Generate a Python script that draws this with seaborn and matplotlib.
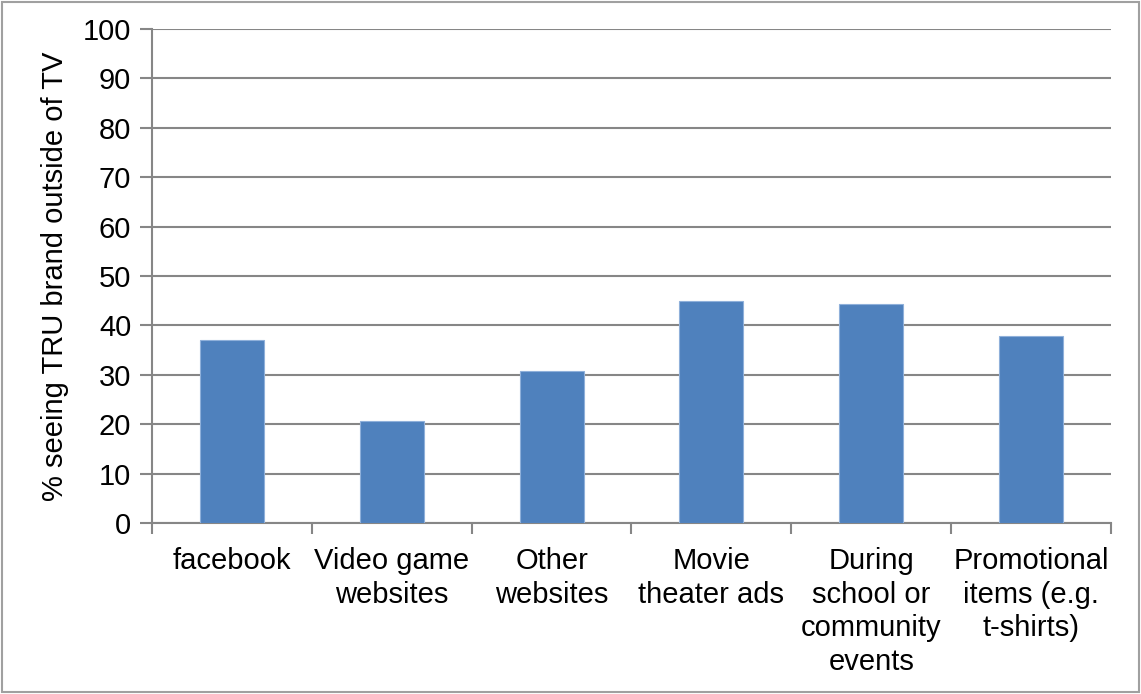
import numpy as np
import pandas as pd
import matplotlib
matplotlib.use("Agg")
import matplotlib.pyplot as plt
import seaborn as sns
from matplotlib.patches import Rectangle

categories = ["facebook", "Video game\nwebsites", "Other\nwebsites", "Movie\ntheater ads",
              "During\nschool or\ncommunity\nevents", "Promotional\nitems (e.g.\nt-shirts)"]
values = [37.1, 20.7, 30.7, 45.0, 44.3, 37.8]
yticks = list(range(0, 101, 10))

sns.set_style("white", {"xtick.bottom": True, "ytick.left": True,
                        "text.color": "black", "xtick.color": "black",
                        "ytick.color": "black", "axes.labelcolor": "black"})
plt.rcParams['font.family'] = ['Liberation Sans', 'DejaVu Sans']

df = pd.DataFrame({"cat": categories, "val": values})

fig = plt.figure(figsize=(11.41, 6.94), dpi=100)
ax = fig.add_axes([152 / 1141, 171 / 694, (1111 - 152) / 1141, (523 - 29) / 694])

sns.barplot(data=df, x="cat", y="val", color="#4F81BD", width=0.4, saturation=1,
            edgecolor="#8FB0DA", linewidth=0.8, ax=ax, zorder=3)

grid_c = "#868686"
ax.set_ylim(0, 100)
ax.set_xlim(-0.5, len(categories) - 0.5)
ax.set_yticks(yticks)
ax.yaxis.grid(True, color=grid_c, linewidth=1.5, zorder=0)
ax.set_axisbelow(True)

ax.set_xticks(range(len(categories)))
ax.set_xticklabels(categories, fontsize=21, linespacing=1.27, va="top")
ax.set_xticks(np.arange(-0.5, len(categories), 1), minor=True)
ax.tick_params(axis="x", which="major", length=0, pad=17, labelcolor="black")
ax.tick_params(axis="x", which="minor", length=8, width=1.5, color=grid_c)
ax.tick_params(axis="y", length=9, width=1.5, color=grid_c, labelsize=21, pad=6,
               labelcolor="black")

for s in ["top", "right"]:
    ax.spines[s].set_visible(False)
for s in ["left", "bottom"]:
    ax.spines[s].set_color(grid_c)
    ax.spines[s].set_linewidth(1.5)

ax.set_xlabel("")
ax.set_ylabel("% seeing TRU brand outside of TV", fontsize=21, labelpad=10, color="black")

fig.patches.append(Rectangle((0.002, 0.003), 0.996, 0.994, transform=fig.transFigure,
                             fill=False, edgecolor="#A0A0A0", linewidth=1.5))

plt.savefig("out.png", dpi=100)
